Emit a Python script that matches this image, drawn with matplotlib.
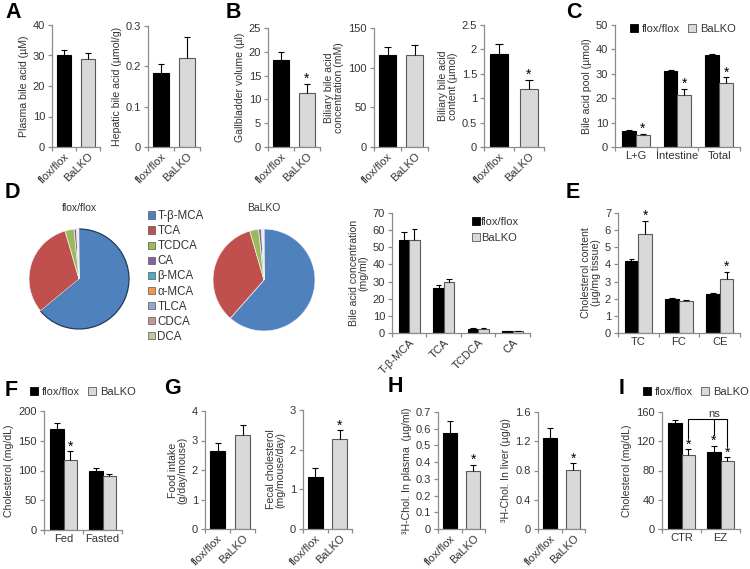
import matplotlib
matplotlib.use('Agg')
import matplotlib.pyplot as plt
from matplotlib.patches import Patch
import numpy as np

plt.rcParams['font.family'] = ['Liberation Sans', 'DejaVu Sans']

# ---------------- data ----------------
groups = ['flox/flox', 'BaLKO']

A_plasma = [30.2, 28.9]
A_plasma_err = [1.6, 2.0]
A_hepatic = [0.184, 0.220]
A_hepatic_err = [0.022, 0.052]

B_gb_volume = [18.3, 11.4]
B_gb_volume_err = [1.7, 1.8]
B_gb_volume_sig = [False, True]
B_bil_conc = [116, 116]
B_bil_conc_err = [10, 13]
B_bil_content = [1.90, 1.18]
B_bil_content_err = [0.22, 0.19]
B_bil_content_sig = [False, True]

C_cats = ['L+G', 'Intestine', 'Total']
C_flox = [6.6, 31.0, 37.7]
C_flox_err = [0.3, 0.5, 0.6]
C_ko = [5.0, 21.3, 26.2]
C_ko_err = [0.4, 2.4, 2.3]
C_ko_sig = [True, True, True]

pie_labels = ['T-β-MCA', 'TCA', 'TCDCA', 'CA', 'β-MCA', 'α-MCA', 'TLCA', 'CDCA', 'DCA']
pie_flox = [64.0, 31.5, 2.9, 0.8, 0.2, 0.2, 0.15, 0.15, 0.1]
pie_ko = [61.5, 34.0, 2.8, 0.9, 0.2, 0.2, 0.15, 0.15, 0.1]

D_cats = ['T-β-MCA', 'TCA', 'TCDCA', 'CA']
D_flox = [54.0, 26.0, 2.6, 1.1]
D_flox_err = [5.0, 1.9, 0.3, 0.2]
D_ko = [54.3, 30.0, 2.6, 1.1]
D_ko_err = [6.3, 1.5, 0.3, 0.2]

E_cats = ['TC', 'FC', 'CE']
E_flox = [4.2, 2.0, 2.28]
E_flox_err = [0.1, 0.05, 0.05]
E_ko = [5.8, 1.85, 3.15]
E_ko_err = [0.75, 0.05, 0.42]
E_ko_sig = [True, False, True]

F_cats = ['Fed', 'Fasted']
F_flox = [169, 99]
F_flox_err = [10, 5]
F_ko = [118, 90]
F_ko_err = [14, 4]
F_ko_sig = [True, False]

G_food = [2.64, 3.19]
G_food_err = [0.26, 0.34]
G_fecal = [1.30, 2.26]
G_fecal_err = [0.23, 0.23]
G_fecal_sig = [False, True]

H_plasma = [0.573, 0.347]
H_plasma_err = [0.074, 0.036]
H_plasma_sig = [False, True]
H_liver = [1.25, 0.807]
H_liver_err = [0.13, 0.09]
H_liver_sig = [False, True]

I_cats = ['CTR', 'EZ']
I_flox = [144.5, 105.7]
I_flox_err = [4.5, 7.8]
I_flox_sig = [False, True]
I_ko = [101, 93.4]
I_ko_err = [8, 4.6]
I_ko_sig = [True, True]

# ---------------- styling ----------------
W, H = 750, 569
BLACK = '#000000'
GREY = '#d9d9d9'
EDGE = '#595959'
SPINE = '#8c8c8c'
TXT = '#333333'
PIE_COLORS = ['#4F81BD', '#C0504D', '#9BBB59', '#8064A2', '#4BACC6',
              '#F79646', '#93A9CF', '#C99594', '#B9CD96']

fig = plt.figure(figsize=(7.5, 5.69), dpi=100)
fig.patch.set_facecolor('white')


def px_axes(x0, y0, x1, y1):
    return fig.add_axes([x0 / W, 1 - y1 / H, (x1 - x0) / W, (y1 - y0) / H])


def style(ax, ylim, yticks, ylabel, yticklabels=None):
    ax.set_ylim(*ylim)
    ax.set_yticks(yticks)
    if yticklabels is not None:
        ax.set_yticklabels(yticklabels)
    for s in ['top', 'right']:
        ax.spines[s].set_visible(False)
    for s in ['left', 'bottom']:
        ax.spines[s].set_color(SPINE)
        ax.spines[s].set_linewidth(0.9)
    ax.tick_params(axis='y', length=3, width=0.9, color=SPINE, labelsize=8,
                   labelcolor=TXT, pad=2)
    ax.tick_params(axis='x', which='major', length=0, labelsize=8,
                   labelcolor=TXT, pad=3)
    ax.tick_params(axis='x', which='minor', length=3, width=0.9, color=SPINE)
    ax.set_ylabel(ylabel, fontsize=7.6, color=TXT, labelpad=3, linespacing=1.0)
    ax.set_facecolor('none')


def err_up(ax, x, vals, errs, cap):
    for xi, v, e in zip(x, vals, errs):
        ax.plot([xi, xi], [v, v + e], color='black', lw=0.8, zorder=3,
                solid_capstyle='butt')
        ax.plot([xi - cap, xi + cap], [v + e, v + e], color='black', lw=0.8,
                zorder=3, solid_capstyle='butt')


def stars(ax, x, vals, errs, sig):
    for xi, v, e, s in zip(x, vals, errs, sig):
        if s:
            ax.annotate('*', (xi, v + e), xytext=(0, -1.5),
                        textcoords='offset points', ha='center', va='bottom',
                        fontsize=10, color='black')


def pair_panel(rect, vals, errs, ylim, yticks, ylabel, sig=None,
               yticklabels=None):
    ax = px_axes(*rect)
    x = np.arange(len(groups))
    ax.bar(x, vals, width=0.6, color=[BLACK, GREY], edgecolor=[BLACK, EDGE],
           linewidth=0.8, zorder=2)
    err_up(ax, x, vals, errs, 0.12)
    if sig:
        stars(ax, x, vals, errs, sig)
    ax.set_xlim(-0.5, len(groups) - 0.5)
    ax.set_xticks(x)
    ax.set_xticklabels(groups, rotation=45, ha='right',
                       rotation_mode='anchor', fontsize=7.5)
    ax.set_xticks(np.arange(len(groups) + 1) - 0.5, minor=True)
    style(ax, ylim, yticks, ylabel, yticklabels)
    return ax


def group_panel(rect, cats, flox, flox_err, ko, ko_err, ylim, yticks,
                ylabel, width=0.33, flox_sig=None, ko_sig=None, rot=0,
                cap=0.07):
    ax = px_axes(*rect)
    x = np.arange(len(cats))
    xf = x - width / 2
    xk = x + width / 2
    ax.bar(xf, flox, width=width, color=BLACK, edgecolor=BLACK,
           linewidth=0.8, zorder=2)
    ax.bar(xk, ko, width=width, color=GREY, edgecolor=EDGE, linewidth=0.8,
           zorder=2)
    err_up(ax, xf, flox, flox_err, cap)
    err_up(ax, xk, ko, ko_err, cap)
    if flox_sig:
        stars(ax, xf, flox, flox_err, flox_sig)
    if ko_sig:
        stars(ax, xk, ko, ko_err, ko_sig)
    ax.set_xlim(-0.5, len(cats) - 0.5)
    ax.set_xticks(x)
    if rot:
        ax.set_xticklabels(cats, rotation=rot, ha='right',
                           rotation_mode='anchor', fontsize=7)
    else:
        ax.set_xticklabels(cats)
    ax.set_xticks(np.arange(len(cats) + 1) - 0.5, minor=True)
    style(ax, ylim, yticks, ylabel)
    return ax


def letter(x, y, s):
    fig.text(x / W, 1 - y / H, s, fontsize=15.5, fontweight='bold',
             ha='left', va='center', color='black')


legend_handles = [Patch(facecolor=BLACK, edgecolor=BLACK, linewidth=0.6),
                  Patch(facecolor=GREY, edgecolor=EDGE, linewidth=0.6)]


def h_legend(x, y):
    fig.legend(legend_handles, groups, loc='center left',
               bbox_to_anchor=(x / W, 1 - y / H), ncol=2, frameon=False,
               fontsize=8, handlelength=0.75, handleheight=0.75,
               handletextpad=0.35, columnspacing=0.7, borderpad=0,
               borderaxespad=0, labelcolor=TXT)


# ---------------- A ----------------
letter(5, 13, 'A')
pair_panel((52, 25, 100, 147), A_plasma, A_plasma_err, (0, 40),
           [0, 10, 20, 30, 40], 'Plasma bile acid (µM)')
pair_panel((148, 26, 200, 147), A_hepatic, A_hepatic_err, (0, 0.3),
           [0, 0.1, 0.2, 0.3], 'Hepatic bile acid (µmol/g)',
           yticklabels=['0', '0.1', '0.2', '0.3'])

# ---------------- B ----------------
letter(226, 13, 'B')
pair_panel((268, 28, 320, 147), B_gb_volume, B_gb_volume_err, (0, 25),
           [0, 5, 10, 15, 20, 25], 'Gallbladder volume (µl)',
           sig=B_gb_volume_sig)
pair_panel((374, 28, 428, 147), B_bil_conc, B_bil_conc_err, (0, 150),
           [0, 50, 100, 150], 'Biliary bile acid\nconcentration (mM)')
pair_panel((484, 25, 544, 147), B_bil_content, B_bil_content_err, (0, 2.5),
           [0, 0.5, 1, 1.5, 2, 2.5], 'Biliary bile acid\ncontent (µmol)',
           sig=B_bil_content_sig,
           yticklabels=['0', '0.5', '1', '1.5', '2', '2.5'])

# ---------------- C ----------------
letter(566, 13, 'C')
group_panel((615, 25, 740, 147), C_cats, C_flox, C_flox_err, C_ko, C_ko_err,
            (0, 50), [0, 10, 20, 30, 40, 50], 'Bile acid pool (µmol)',
            width=0.33, ko_sig=C_ko_sig)
h_legend(630, 29)

# ---------------- D ----------------
letter(5, 192, 'D')
for (cx, cy, r), vals, title in [((79, 279, 51), pie_flox, 'flox/flox'),
                                 ((264, 280, 52), pie_ko, 'BaLKO')]:
    pax = px_axes(cx - r, cy - r, cx + r, cy + r)
    wedges, _ = pax.pie(vals, colors=PIE_COLORS, startangle=90,
                        counterclock=False, radius=1,
                        wedgeprops=dict(linewidth=0.5, edgecolor='#f0f0f0'))
    if title == 'flox/flox':
        wedges[0].set_edgecolor('#1f3a5f')
        wedges[0].set_linewidth(0.9)
    pax.set_xlim(-1.02, 1.02)
    pax.set_ylim(-1.02, 1.02)
    pax.set_aspect('equal')
    pax.axis('off')
    fig.text(cx / W, 1 - 208 / H, title, fontsize=7.5, color=TXT,
             ha='center', va='center')
pie_handles = [Patch(facecolor=c, edgecolor='#555555', linewidth=0.5)
               for c in PIE_COLORS]
fig.legend(pie_handles, pie_labels, loc='upper left',
           bbox_to_anchor=(148 / W, 1 - 210 / H), frameon=False, fontsize=8.3,
           handlelength=0.6, handleheight=0.6, handletextpad=0.2,
           labelspacing=0.27, borderpad=0, borderaxespad=0, labelcolor=TXT)

group_panel((392, 213, 530, 333), D_cats, D_flox, D_flox_err, D_ko, D_ko_err,
            (0, 70), [0, 10, 20, 30, 40, 50, 60, 70],
            'Bile acid concentration\n(mg/ml)', width=0.3, rot=45, cap=0.08)
fig.legend(legend_handles, groups, loc='upper left',
           bbox_to_anchor=(472 / W, 1 - 217 / H), frameon=False, fontsize=8,
           handlelength=0.7, handleheight=0.7, handletextpad=0.1,
           labelspacing=0.55, borderpad=0, borderaxespad=0, labelcolor=TXT)

# ---------------- E ----------------
letter(566, 193, 'E')
group_panel((618, 213, 740, 333), E_cats, E_flox, E_flox_err, E_ko, E_ko_err,
            (0, 7), [0, 1, 2, 3, 4, 5, 6, 7],
            'Cholesterol content\n(µg/mg tissue)', width=0.34, ko_sig=E_ko_sig)

# ---------------- F ----------------
letter(5, 390, 'F')
h_legend(30, 392)
group_panel((44, 411, 122, 530), F_cats, F_flox, F_flox_err, F_ko, F_ko_err,
            (0, 200), [0, 50, 100, 150, 200], 'Cholesterol (mg/dL)',
            width=0.34, ko_sig=F_ko_sig, cap=0.08)

# ---------------- G ----------------
letter(164, 388, 'G')
pair_panel((205, 411, 255, 529), G_food, G_food_err, (0, 4),
           [0, 1, 2, 3, 4], 'Food intake\n(g/day/mouse)')
pair_panel((303, 410, 352, 529), G_fecal, G_fecal_err, (0, 3),
           [0, 1, 2, 3], 'Fecal cholesterol\n(mg/mouse/day)',
           sig=G_fecal_sig)

# ---------------- H ----------------
letter(388, 387, 'H')
pair_panel((438, 412, 485, 529), H_plasma, H_plasma_err, (0, 0.7),
           [0, 0.1, 0.2, 0.3, 0.4, 0.5, 0.6, 0.7],
           '³H-Chol. In plasma  (µg/ml)', sig=H_plasma_sig,
           yticklabels=['0', '0.1', '0.2', '0.3', '0.4', '0.5', '0.6', '0.7'])
pair_panel((538, 412, 585, 529), H_liver, H_liver_err, (0, 1.6),
           [0, 0.4, 0.8, 1.2, 1.6], '³H-Chol. In liver (µg/g)',
           sig=H_liver_sig, yticklabels=['0', '0.4', '0.8', '1.2', '1.6'])

# ---------------- I ----------------
letter(619, 388, 'I')
h_legend(643, 392)
w_i = 0.35
axI = group_panel((662, 412, 740, 529), I_cats, I_flox, I_flox_err, I_ko,
                  I_ko_err, (0, 160), [0, 40, 80, 120, 160],
                  'Cholesterol (mg/dL)', width=w_i, flox_sig=I_flox_sig,
                  ko_sig=I_ko_sig, cap=0.08)
# "ns" bracket between CTR BaLKO and both EZ groups
xs = [0 + w_i / 2, 1 - w_i / 2, 1 + w_i / 2]
tops = [I_ko[0] + I_ko_err[0], I_flox[1] + I_flox_err[1], I_ko[1] + I_ko_err[1]]
top_all = max(max(np.add(I_flox, I_flox_err)), max(np.add(I_ko, I_ko_err)))
yb = top_all + 1
for xb, t in zip(xs, tops):
    axI.plot([xb, xb], [t + 15, yb], color='black', lw=0.8, clip_on=False)
axI.plot([xs[0], xs[2]], [yb, yb], color='black', lw=0.8, clip_on=False)
axI.text(xs[1], yb + 1, 'ns', ha='center', va='bottom', fontsize=8,
         color=TXT, clip_on=False)

fig.savefig('out.png', dpi=100, facecolor='white')
